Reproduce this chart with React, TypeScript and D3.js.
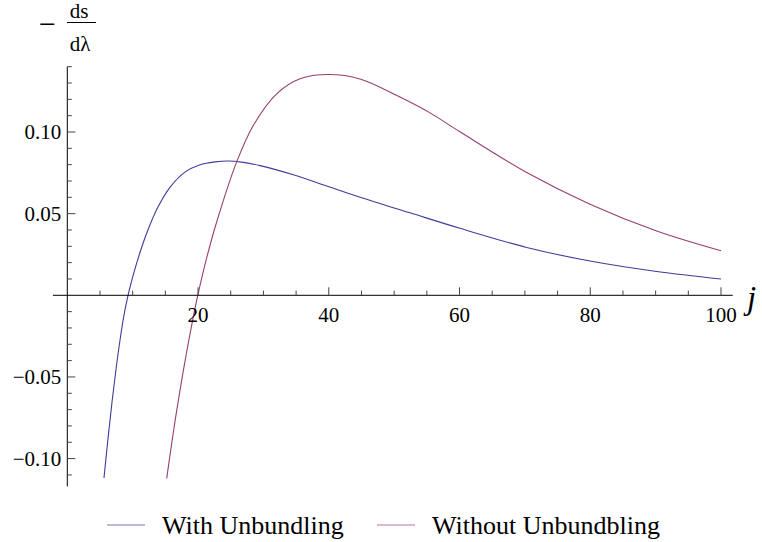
import React from 'react';
import * as d3 from 'd3';

// values (j, -ds/dλ)
const jWith = [5.61, 6.23, 6.84, 7.45, 8.06, 8.67, 9.29, 10.2, 11.12, 12.35, 13.87, 15.71, 18.0, 20.3, 22.59, 24.59, 26.9, 29.48, 34.57, 39.68, 44.78, 52.42, 60.07, 70.28, 79.96, 90.16, 100];
const sWith = [-0.1119, -0.0876, -0.0653, -0.0453, -0.0275, -0.0122, 0.0, 0.014, 0.0262, 0.0401, 0.054, 0.0661, 0.0754, 0.0799, 0.0817, 0.0822, 0.0814, 0.0794, 0.0738, 0.0669, 0.06, 0.0505, 0.041, 0.0293, 0.021, 0.0146, 0.01];

const jWithout = [15.21, 15.71, 16.47, 17.24, 18.27, 19.27, 19.96, 21.32, 22.85, 25.91, 28.45, 32.03, 35.6, 39.93, 44.78, 50.89, 55.48, 60.07, 70.28, 79.96, 90.16, 100];
const sWithout = [-0.1121, -0.0979, -0.0774, -0.0582, -0.0344, -0.0132, 0.0, 0.0229, 0.0449, 0.0817, 0.104, 0.1234, 0.1326, 0.1352, 0.1325, 0.1214, 0.1117, 0.1001, 0.0752, 0.0558, 0.0394, 0.0273];

const xMajor = [20, 40, 60, 80, 100];
const xMinor = d3.range(5, 101, 5);
const yMajor = [-0.1, -0.05, 0.05, 0.1];
const yMinor = d3.range(-11, 15).filter(v => v !== 0).map(v => v / 100);

const seriesNames = ['With Unbundling', 'Without Unbundbling'];
const colors = ['#3d3d99', '#993d71'];

export default function App() {
  const x = d3.scaleLinear().domain([0, 100]).range([67.3, 721]);
  const y = d3.scaleLinear().domain([0, 0.1]).range([295.3, 132]);

  const line = d3.line<[number, number]>()
    .x(d => x(d[0]))
    .y(d => y(d[1]))
    .curve(d3.curveCatmullRom.alpha(0.5));

  const withPts = jWith.map((j, i) => [j, sWith[i]] as [number, number]);
  const withoutPts = jWithout.map((j, i) => [j, sWithout[i]] as [number, number]);

  const font = '"Liberation Serif", "DejaVu Serif", serif';

  return (
    <svg width={762} height={542} style={{ position: 'absolute', left: 0, top: 0, background: 'white' }}>
      {/* curves */}
      <path d={line(withPts) || ''} fill="none" stroke={colors[0]} strokeWidth={1.1} />
      <path d={line(withoutPts) || ''} fill="none" stroke={colors[1]} strokeWidth={1.1} />

      {/* x axis */}
      <line x1={x(-2.2)} x2={x(101.8)} y1={y(0)} y2={y(0)} stroke="#000" strokeWidth={1} />
      {xMinor.map(v => (
        <line key={'xm' + v} x1={x(v)} x2={x(v)} y1={y(0)}
          y2={y(0) - (xMajor.includes(v) ? 8 : 4.7)} stroke="#444" strokeWidth={1} />
      ))}
      {xMajor.map(v => (
        <text key={'xl' + v} x={x(v)} y={y(0) + 27} textAnchor="middle"
          fontFamily={font} fontSize={21} fill="#000">{v}</text>
      ))}

      {/* y axis */}
      <line x1={x(0)} x2={x(0)} y1={y(0.14)} y2={y(-0.117)} stroke="#000" strokeWidth={1} />
      {yMinor.map(v => (
        <line key={'ym' + v} x1={x(0)} y1={y(v)} y2={y(v)}
          x2={x(0) + (yMajor.some(m => Math.abs(m - v) < 1e-9) ? 8 : 4.5)} stroke="#444" strokeWidth={1} />
      ))}
      {yMajor.map(v => (
        <text key={'yl' + v} x={x(0) - 6} y={y(v) + 7} textAnchor="end"
          fontFamily={font} fontSize={21} fill="#000">{v < 0 ? '\u2212' + Math.abs(v).toFixed(2) : v.toFixed(2)}</text>
      ))}

      {/* axis labels */}
      <text x={747} y={309} fontFamily={font} fontStyle="italic" fontSize={33} fill="#000">j</text>
      <g fontFamily={font} fill="#000">
        <text x={39} y={34} fontSize={30}>{'\u2212'}</text>
        <text x={79} y={18} fontSize={21} textAnchor="middle">ds</text>
        <line x1={67} x2={96} y1={22.5} y2={22.5} stroke="#000" strokeWidth={1} />
        <text x={80} y={51} fontSize={21} textAnchor="middle">d{'\u03bb'}</text>
      </g>

      {/* legend */}
      {seriesNames.map((name, i) => {
        const lx = i === 0 ? 107 : 377;
        return (
          <g key={name}>
            <line x1={lx} x2={lx + 38} y1={525} y2={525} stroke={colors[i]} strokeOpacity={0.7} strokeWidth={1.2} />
            <text x={lx + 55} y={534} fontFamily={font} fontSize={26} fill="#000">{name}</text>
          </g>
        );
      })}
    </svg>
  );
}
